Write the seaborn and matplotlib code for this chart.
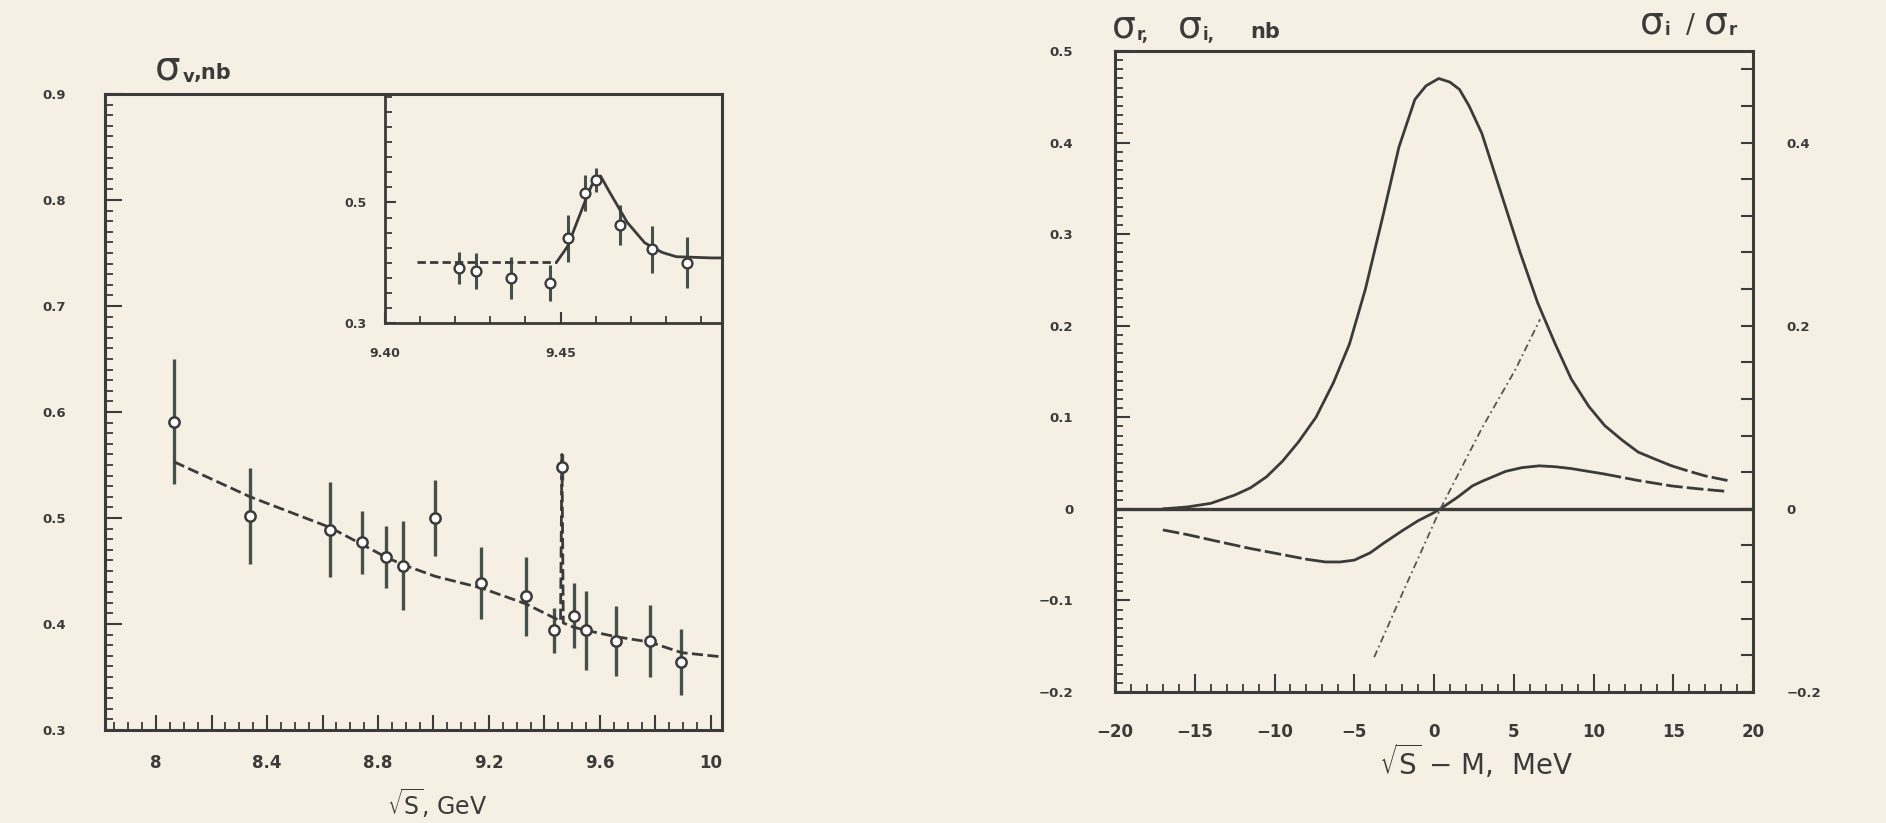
import matplotlib
matplotlib.use("Agg")
import matplotlib.pyplot as plt
from matplotlib.ticker import MultipleLocator
import seaborn as sns

# ---- left panel: sigma_v vs sqrt(S), GeV ----
scan_x = [8.065, 8.339, 8.628, 8.744, 8.829, 8.890, 9.006, 9.172, 9.333,
          9.433, 9.463, 9.505, 9.550, 9.658, 9.779, 9.894]
scan_y = [0.591, 0.502, 0.489, 0.477, 0.463, 0.455, 0.500, 0.439, 0.426,
          0.394, 0.548, 0.408, 0.394, 0.384, 0.384, 0.364]
scan_err = [0.059, 0.045, 0.045, 0.030, 0.029, 0.042, 0.036, 0.034, 0.037,
            0.021, 0.012, 0.031, 0.037, 0.033, 0.034, 0.031]

fit_x = [8.065, 8.339, 8.628, 8.829, 8.890, 9.006, 9.172, 9.333, 9.433,
         9.458, 9.463, 9.468, 9.505, 9.550, 9.658, 9.779, 9.894, 10.04]
fit_y = [0.553, 0.520, 0.491, 0.463, 0.456, 0.445, 0.434, 0.419, 0.406,
         0.403, 0.560, 0.401, 0.397, 0.394, 0.388, 0.383, 0.373, 0.369]

main_xticks = [8.0, 8.2, 8.4, 8.6, 8.8, 9.0, 9.2, 9.4, 9.6, 9.8, 10.0]
main_xlabels = ["8", "", "8.4", "", "8.8", "", "9.2", "", "9.6", "", "10"]
main_yticks = [0.3, 0.4, 0.5, 0.6, 0.7, 0.8, 0.9]
main_ylabels = ["0.3", "0.4", "0.5", "0.6", "0.7", "0.8", "0.9"]

# inset: resonance region
ins_x = [9.421, 9.426, 9.436, 9.447, 9.452, 9.457, 9.460, 9.467, 9.476, 9.486]
ins_y = [0.391, 0.386, 0.374, 0.366, 0.441, 0.516, 0.538, 0.463, 0.422, 0.400]
ins_err = [0.027, 0.030, 0.035, 0.030, 0.039, 0.030, 0.020, 0.033, 0.039, 0.042]

ins_base_x = [9.409, 9.449]
ins_base_y = [0.402, 0.402]
ins_curve_x = [9.449, 9.452, 9.455, 9.458, 9.460, 9.4614, 9.464, 9.469,
               9.474, 9.479, 9.483, 9.493, 9.496]
ins_curve_y = [0.402, 0.427, 0.472, 0.517, 0.542, 0.544, 0.517, 0.467,
               0.433, 0.417, 0.410, 0.408, 0.408]

ins_xticks = [9.40, 9.45]
ins_xlabels = ["9.40", "9.45"]
ins_yticks = [0.3, 0.5]
ins_ylabels = ["0.3", "0.5"]

# ---- right panel: sigma_r, sigma_i (nb) and sigma_i/sigma_r vs sqrt(S)-M ----
sr_x = [-17.0, -15.5, -14.0, -12.5, -11.5, -10.5, -9.5, -8.5, -7.4, -6.3,
        -5.3, -4.3, -3.2, -2.2, -1.2, -0.5, 0.3, 1.0, 1.6, 2.2, 3.0, 4.2,
        5.4, 6.5, 7.6, 8.6, 9.7, 10.7, 11.8, 12.8, 13.9, 14.9, 16.0, 17.0, 18.4]
sr_y = [0.000, 0.002, 0.006, 0.015, 0.023, 0.035, 0.052, 0.073, 0.100, 0.138,
        0.180, 0.240, 0.320, 0.395, 0.447, 0.462, 0.470, 0.466, 0.458, 0.440,
        0.410, 0.345, 0.280, 0.225, 0.180, 0.142, 0.112, 0.091, 0.075, 0.062,
        0.054, 0.047, 0.041, 0.036, 0.031]

si_x = [-17.0, -15.5, -13.7, -11.6, -9.5, -8.0, -6.8, -5.9, -5.0, -4.0,
        -3.2, -2.0, -1.0, -0.1, 0.4, 1.5, 2.4, 3.0, 4.5, 5.5, 6.6, 7.6,
        8.6, 10.7, 12.8, 14.9, 16.5, 18.4]
si_y = [-0.023, -0.028, -0.035, -0.043, -0.050, -0.055, -0.058, -0.058,
        -0.056, -0.048, -0.038, -0.024, -0.013, -0.005, 0.000, 0.013, 0.025,
        0.030, 0.041, 0.045, 0.047, 0.046, 0.044, 0.038, 0.031, 0.025,
        0.022, 0.019]

ratio_x = [-3.75, -2.0, 0.4, 3.0, 5.1, 6.65]
ratio_y = [-0.162, -0.093, 0.000, 0.088, 0.152, 0.207]

r_xticks = [-20, -15, -10, -5, 0, 5, 10, 15, 20]
r_xlabels = ["\u221220", "\u221215", "\u221210", "\u22125", "0", "5", "10", "15", "20"]
r_yticks = [-0.2, -0.1, 0.0, 0.1, 0.2, 0.3, 0.4, 0.5]
r_ylabels = ["\u22120.2", "\u22120.1", "0", "0.1", "0.2", "0.3", "0.4", "0.5"]
ratio_ticks = [-0.2, 0.0, 0.2, 0.4]
ratio_labels = ["\u22120.2", "0", "0.2", "0.4"]

ink = "#3b3b3b"
bar_ink = "#44504c"
paper = "#f6f0e4"

sns.set_theme(style="ticks")
plt.rcParams["font.family"] = ["DejaVu Sans"]
plt.rcParams["mathtext.fontset"] = "dejavusans"
plt.rcParams["axes.edgecolor"] = ink
plt.rcParams["xtick.color"] = ink
plt.rcParams["ytick.color"] = ink

W, H = 1886, 823
fig = plt.figure(figsize=(W / 100, H / 100), dpi=100, facecolor=paper)


def box(l, t, r, b):
    return [l / W, 1 - b / H, (r - l) / W, (b - t) / H]


def ptext(x, y, s, size, **kw):
    # text placed in picture pixels (from top-left)
    fig.text(x / W, 1 - y / H, s, fontsize=size, color=ink, **kw)


def style_ticks(ax, which_axis, major_len, minor_len, pad, size):
    ax.tick_params(axis=which_axis, which="major", direction="in",
                   length=major_len, width=1.5, pad=pad, labelsize=size)
    ax.tick_params(axis=which_axis, which="minor", direction="in",
                   length=minor_len, width=1.3)


def bold_labels(ax):
    for lab in ax.get_xticklabels() + ax.get_yticklabels():
        lab.set_fontweight("bold")
        lab.set_color(ink)


# ---------------- left panel ----------------
ax = fig.add_axes(box(105, 94, 722, 730))
ax.set_facecolor("none")
for sp in ax.spines.values():
    sp.set_linewidth(2.2)

ax.vlines(scan_x, [y - e for y, e in zip(scan_y, scan_err)],
          [y + e for y, e in zip(scan_y, scan_err)], color=bar_ink, lw=2.4, zorder=2)
sns.lineplot(x=fit_x, y=fit_y, ax=ax, color=ink, lw=2.0, sort=False,
             estimator=None, zorder=3)
ax.lines[-1].set_dashes((4, 1.6))
sns.scatterplot(x=scan_x, y=scan_y, ax=ax, marker="o", s=55, color="white",
                edgecolor=ink, linewidth=1.8, zorder=4)

ax.set_xlim(7.816, 10.04)
ax.set_ylim(0.3, 0.9)
ax.set_xticks(main_xticks, labels=main_xlabels)
ax.set_yticks(main_yticks, labels=main_ylabels)
ax.xaxis.set_minor_locator(MultipleLocator(0.05))
ax.yaxis.set_minor_locator(MultipleLocator(0.01))
style_ticks(ax, "x", 11, 6, 17, 12)
style_ticks(ax, "y", 12, 6, 28, 9.5)
bold_labels(ax)
ax.set_xlabel("")
ax.set_ylabel("")

ptext(155, 79, "\u03c3", 29, ha="left", va="baseline")
ptext(183, 82, "v", 13, ha="left", va="baseline", fontweight="bold")
ptext(194, 79, ",nb", 15, ha="left", va="baseline", fontweight="bold")
ptext(437, 803, r"$\sqrt{\mathrm{S}}$, GeV", 17, ha="center", va="center")

# ---------------- inset ----------------
axi = fig.add_axes(box(385, 94, 722, 323))
axi.set_facecolor("none")
for sp in axi.spines.values():
    sp.set_linewidth(2.0)
axi.vlines(ins_x, [y - e for y, e in zip(ins_y, ins_err)],
           [y + e for y, e in zip(ins_y, ins_err)], color=bar_ink, lw=2.2, zorder=2)
sns.lineplot(x=ins_base_x, y=ins_base_y, ax=axi, color=ink, lw=2.0,
             estimator=None, zorder=3)
axi.lines[-1].set_dashes((3, 1.5))
sns.lineplot(x=ins_curve_x, y=ins_curve_y, ax=axi, color=ink, lw=2.0,
             sort=False, estimator=None, zorder=3)
sns.scatterplot(x=ins_x, y=ins_y, ax=axi, marker="o", s=50, color="white",
                edgecolor=ink, linewidth=1.7, zorder=4)
axi.set_xlim(9.40, 9.496)
axi.set_ylim(0.3, 0.68)
axi.set_xticks(ins_xticks, labels=ins_xlabels)
axi.set_yticks(ins_yticks, labels=ins_ylabels)
axi.xaxis.set_minor_locator(MultipleLocator(0.01))
axi.yaxis.set_minor_locator(MultipleLocator(0.025))
style_ticks(axi, "x", 8, 5, 17, 9)
style_ticks(axi, "y", 8, 5, 13, 9)
bold_labels(axi)

# ---------------- right panel ----------------
axr = fig.add_axes(box(1115, 51, 1753, 692))
axr.set_facecolor("none")
for sp in axr.spines.values():
    sp.set_linewidth(2.2)
axr.axhline(0, color=ink, lw=2.4, zorder=2)

k_r = sr_x.index(14.9)
sns.lineplot(x=sr_x[:k_r + 1], y=sr_y[:k_r + 1], ax=axr, color=ink, lw=2.0,
             sort=False, estimator=None, zorder=3)
sns.lineplot(x=sr_x[k_r:], y=sr_y[k_r:], ax=axr, color=ink, lw=2.0,
             sort=False, estimator=None, zorder=3)
axr.lines[-1].set_dashes((6, 1.5))

k_a = si_x.index(-8.0)
k_b = si_x.index(10.7)
sns.lineplot(x=si_x[:k_a + 1], y=si_y[:k_a + 1], ax=axr, color=ink, lw=2.0,
             sort=False, estimator=None, zorder=3)
axr.lines[-1].set_dashes((6, 1.5))
sns.lineplot(x=si_x[k_a:k_b + 1], y=si_y[k_a:k_b + 1], ax=axr, color=ink,
             lw=2.0, sort=False, estimator=None, zorder=3)
sns.lineplot(x=si_x[k_b:], y=si_y[k_b:], ax=axr, color=ink, lw=2.0,
             sort=False, estimator=None, zorder=3)
axr.lines[-1].set_dashes((6, 1.5))

axr.set_xlim(-20, 20)
axr.set_ylim(-0.2, 0.5)
axr.set_xticks(r_xticks, labels=r_xlabels)
axr.set_yticks(r_yticks, labels=r_ylabels)
axr.xaxis.set_minor_locator(MultipleLocator(1))
axr.yaxis.set_minor_locator(MultipleLocator(0.01))
style_ticks(axr, "x", 13, 6, 22, 12)
style_ticks(axr, "y", 11, 6, 30, 9.5)
bold_labels(axr)

# ratio axis on the right, same scale
ax2 = axr.twinx()
ax2.set_ylim(-0.2, 0.5)
sns.lineplot(x=ratio_x, y=ratio_y, ax=ax2, color="#555555", lw=1.3,
             sort=False, estimator=None, zorder=3)
ax2.lines[-1].set_dashes((4, 2, 1, 2))
ax2.set_yticks([i * 0.04 for i in range(-5, 13)])
ax2.set_yticklabels(["" for _ in range(-5, 13)])
ax2.tick_params(axis="y", direction="in", length=9, width=1.5)
ax2.set_ylabel("")
sec = ax2.secondary_yaxis("right")
sec.set_yticks(ratio_ticks, labels=ratio_labels)
sec.tick_params(axis="y", direction="in", length=0, pad=24, labelsize=9.5)
sec.spines["right"].set_visible(False)
for lab in sec.get_yticklabels():
    lab.set_fontweight("bold")
    lab.set_color(ink)

# panel headers: large sigma with small subscripts
ptext(1112, 38, "\u03c3", 27, ha="left", va="baseline")
ptext(1137, 40, "r,", 12, ha="left", va="baseline", fontweight="bold")
ptext(1178, 38, "\u03c3", 27, ha="left", va="baseline")
ptext(1203, 40, "i,", 12, ha="left", va="baseline", fontweight="bold")
ptext(1250, 38, "nb", 15, ha="left", va="baseline", fontweight="bold")

ptext(1640, 33, "\u03c3", 27, ha="left", va="baseline")
ptext(1665, 35, "i", 12, ha="left", va="baseline", fontweight="bold")
ptext(1686, 33, "/", 19, ha="left", va="baseline")
ptext(1704, 33, "\u03c3", 27, ha="left", va="baseline")
ptext(1729, 35, "r", 12, ha="left", va="baseline", fontweight="bold")

ptext(1476, 762, r"$\sqrt{\mathrm{S}}$ $-$ M,  MeV", 20, ha="center", va="center")

fig.savefig("out.png", dpi=100, facecolor=paper)
